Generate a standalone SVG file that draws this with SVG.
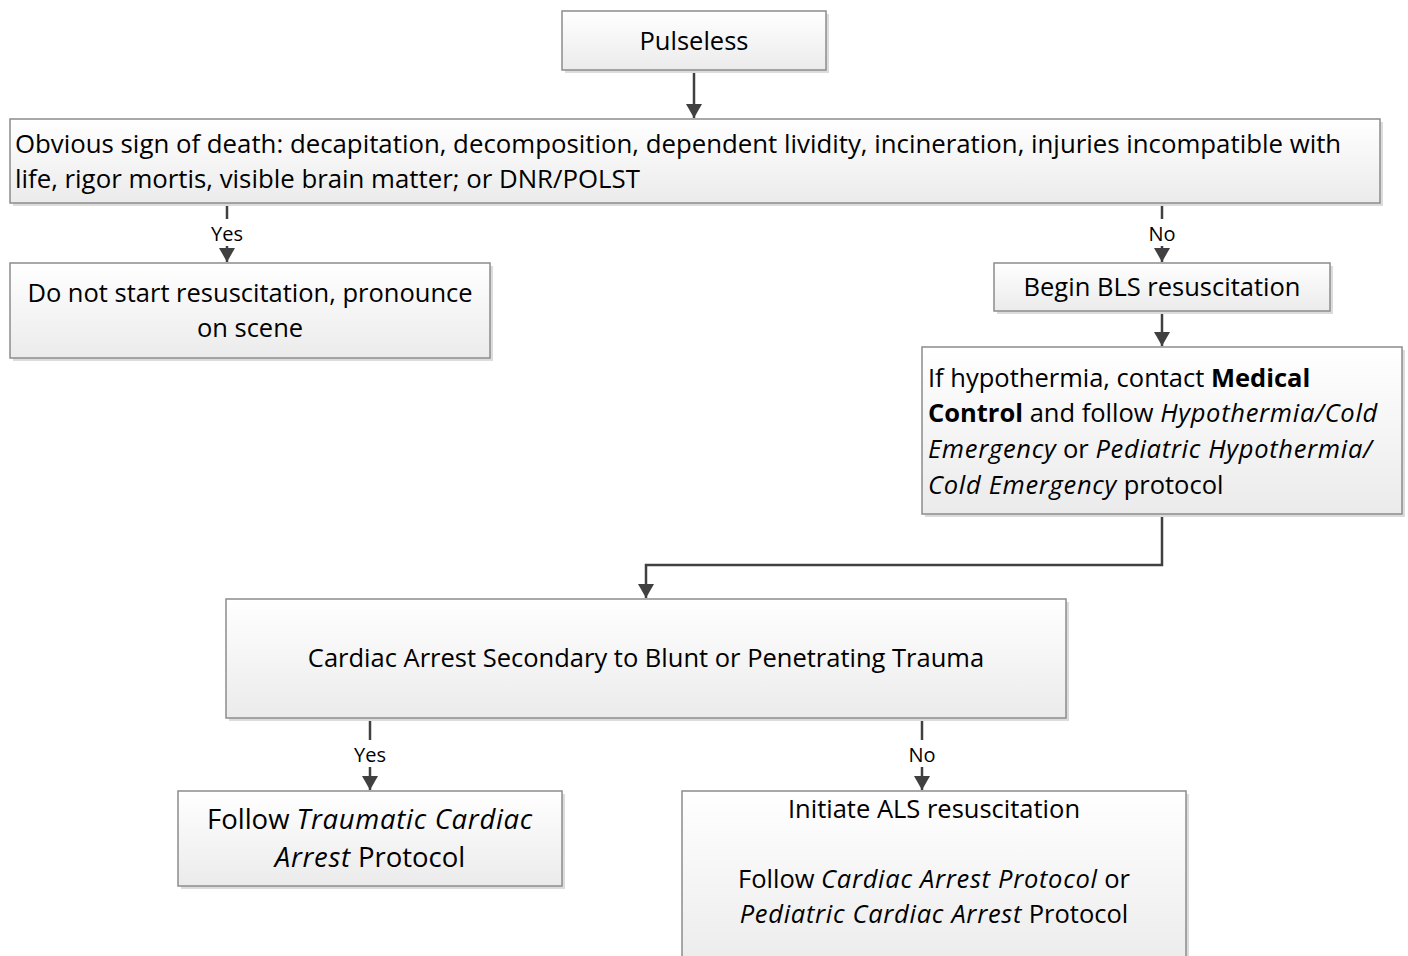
<svg xmlns="http://www.w3.org/2000/svg" width="1408" height="956" viewBox="0 0 1408 956">
<defs>
<linearGradient id="g" x1="0" y1="0" x2="0" y2="1">
<stop offset="0" stop-color="#ffffff"/>
<stop offset="1" stop-color="#ebebeb"/>
</linearGradient>
<marker id="ah" viewBox="0 0 14 16" refX="14" refY="8" markerWidth="14" markerHeight="16" markerUnits="userSpaceOnUse" orient="auto">
<path d="M0,0 L14,8 L0,16 Z" fill="#404040"/>
</marker>
<style>
.box{fill:url(#g);stroke:#8c8c8c;stroke-width:1.5}
.sh{fill:#dcdcdc}
.t{font-family:"Open Sans","Liberation Sans",Arial,sans-serif;font-size:25.5px;fill:#000}
.big{font-size:27.5px}
.c{text-anchor:middle}
.lbl{font-family:"Open Sans","Liberation Sans",Arial,sans-serif;font-size:20px;fill:#000;text-anchor:middle}
.ln{fill:none;stroke:#404040;stroke-width:2.5}
.b{font-weight:bold}
.i{font-style:italic;letter-spacing:0.7px}
</style>
</defs>
<rect width="1408" height="956" fill="#ffffff"/>

<g id="connectors">
<path class="ln" d="M694,70 V118" marker-end="url(#ah)"/>
<path class="ln" d="M227,203 V262" marker-end="url(#ah)"/>
<path class="ln" d="M1162,203 V262" marker-end="url(#ah)"/>
<path class="ln" d="M1162,311 V346" marker-end="url(#ah)"/>
<path class="ln" d="M1162,514 V565 H646 V598" marker-end="url(#ah)"/>
<path class="ln" d="M370,718 V790" marker-end="url(#ah)"/>
<path class="ln" d="M922,718 V790" marker-end="url(#ah)"/>
<rect x="203" y="219" width="48" height="27" fill="#ffffff"/>
<text class="lbl" x="227" y="241">Yes</text>
<rect x="1144" y="219" width="36" height="27" fill="#ffffff"/>
<text class="lbl" x="1162" y="241">No</text>
<rect x="346" y="740" width="48" height="27" fill="#ffffff"/>
<text class="lbl" x="370" y="762">Yes</text>
<rect x="904" y="740" width="36" height="27" fill="#ffffff"/>
<text class="lbl" x="922" y="762">No</text>
</g>

<g id="pulseless">
<rect class="sh" x="565" y="14" width="264" height="59"/>
<rect class="box" x="562" y="11" width="264" height="59"/>
<text class="t c" x="694" y="50">Pulseless</text>
</g>

<g id="obvious">
<rect class="sh" x="13" y="122" width="1370" height="84"/>
<rect class="box" x="10" y="119" width="1370" height="84"/>
<text class="t" x="15" y="153" style="font-size:25.8px">Obvious sign of death: decapitation, decomposition, dependent lividity, incineration, injuries incompatible with</text>
<text class="t" x="15" y="188" style="font-size:25.8px">life, rigor mortis, visible brain matter; or DNR/POLST</text>
</g>

<g id="no-start">
<rect class="sh" x="13" y="266" width="480" height="95"/>
<rect class="box" x="10" y="263" width="480" height="95"/>
<text class="t c" x="250" y="302">Do not start resuscitation, pronounce</text>
<text class="t c" x="250" y="337">on scene</text>
</g>

<g id="bls">
<rect class="sh" x="997" y="266" width="336" height="48"/>
<rect class="box" x="994" y="263" width="336" height="48"/>
<text class="t c" x="1162" y="296">Begin BLS resuscitation</text>
</g>

<g id="hypothermia">
<rect class="sh" x="925" y="350" width="480" height="167"/>
<rect class="box" x="922" y="347" width="480" height="167"/>
<text class="t" x="928" y="387">If hypothermia, contact <tspan class="b">Medical</tspan></text>
<text class="t" x="928" y="422"><tspan class="b">Control</tspan> and follow <tspan class="i">Hypothermia/Cold</tspan></text>
<text class="t" x="928" y="458"><tspan class="i">Emergency</tspan> or <tspan class="i">Pediatric Hypothermia/</tspan></text>
<text class="t" x="928" y="494"><tspan class="i">Cold Emergency</tspan> protocol</text>
</g>

<g id="trauma">
<rect class="sh" x="229" y="602" width="840" height="119"/>
<rect class="box" x="226" y="599" width="840" height="119"/>
<text class="t c" x="646" y="667">Cardiac Arrest Secondary to Blunt or Penetrating Trauma</text>
</g>

<g id="traumatic">
<rect class="sh" x="181" y="794" width="384" height="95"/>
<rect class="box" x="178" y="791" width="384" height="95"/>
<text class="t big c" x="370" y="829">Follow <tspan class="i">Traumatic Cardiac</tspan></text>
<text class="t big c" x="370" y="867"><tspan class="i">Arrest</tspan> Protocol</text>
</g>

<g id="als">
<rect class="sh" x="685" y="794" width="504" height="180"/>
<rect class="box" x="682" y="791" width="504" height="180"/>
<text class="t c" x="934" y="818">Initiate ALS resuscitation</text>
<text class="t c" x="934" y="888">Follow <tspan class="i">Cardiac Arrest Protocol</tspan> or</text>
<text class="t c" x="934" y="923"><tspan class="i">Pediatric Cardiac Arrest</tspan> Protocol</text>
</g>
</svg>
